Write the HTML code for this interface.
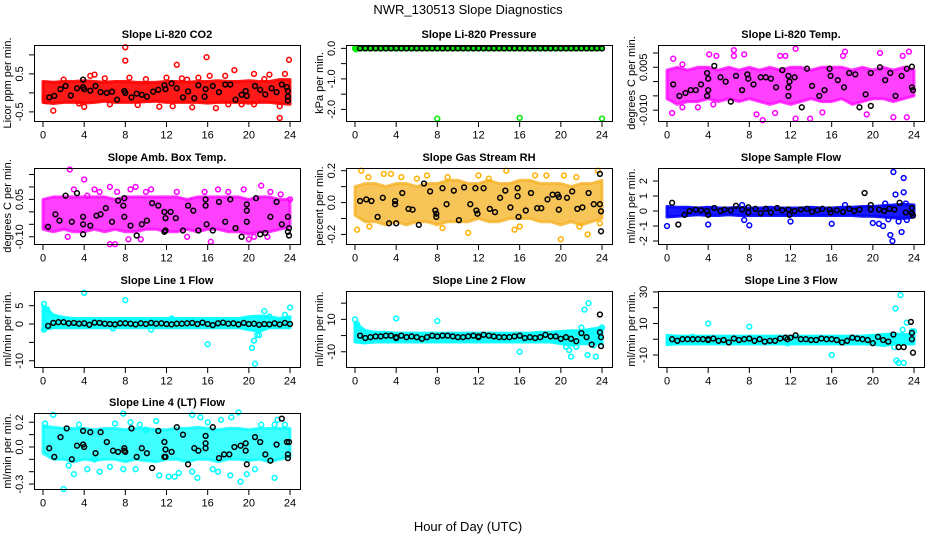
<!DOCTYPE html>
<html><head><meta charset="utf-8"><title>NWR_130513 Slope Diagnostics</title>
<style>
html,body{margin:0;padding:0;background:#fff;}
svg{display:block;font-family:"Liberation Sans",sans-serif;}
</style></head>
<body>
<svg id="chart" xmlns="http://www.w3.org/2000/svg" width="936" height="540" viewBox="0 0 936 540">
<text x="468" y="14" font-size="13" text-anchor="middle">NWR_130513  Slope Diagnostics</text>
<text x="468" y="531" font-size="13" text-anchor="middle">Hour of Day (UTC)</text>
</svg>
<script>
const bandHours=[0,1,2,3,4,5,6,7,8,9,10,11,12,13,14,15,16,17,18,19,20,21,22,23,24];
const xTicks=[0,4,8,12,16,20,24];

const co2Hi=[0.3,0.28,0.3,0.3,0.32,0.3,0.28,0.3,0.3,0.28,0.27,0.28,0.3,0.3,0.28,0.3,0.3,0.32,0.3,0.3,0.32,0.3,0.3,0.35,0.35];
const co2Lo=[-0.25,-0.28,-0.25,-0.25,-0.27,-0.25,-0.22,-0.25,-0.25,-0.25,-0.23,-0.22,-0.25,-0.25,-0.25,-0.25,-0.27,-0.25,-0.25,-0.25,-0.27,-0.25,-0.25,-0.28,-0.3];
const co2Out=[[0.2,-0.12],[0.3,-0.22],[1,-0.47],[3.5,-0.28],[4,-0.37],[4.6,0.45],[5,0.48],[6.5,-0.3],[8,1.2],[8,0.85],[8.4,0.4],[9.2,-0.32],[11.3,-0.36],[12,0.4],[12.6,-0.35],[13,0.74],[13.5,0.38],[14.5,-0.38],[15.1,0.4],[15.9,0.94],[16.2,0.45],[16.8,-0.4],[17.7,0.45],[18.6,0.6],[19.3,-0.3],[20.5,-0.3],[20.5,0.5],[22,0.48],[23,-0.66],[23,-0.35],[23.5,0.5],[23.9,0.87],[2,0.35],[6,0.38],[10,0.36],[14,0.35],[18,-0.3],[21.5,0.36]];
const co2Blk=[[0.6,-0.12],[1.1,-0.08],[1.7,0.1],[2.2,0.18],[2.7,-0.07],[3.3,0.12],[3.9,0.35],[3.9,0.15],[4,0.1],[4.6,0.06],[5.1,0.18],[5.6,0.02],[6.2,0.0],[6.7,0.03],[7.2,-0.18],[7.9,0.05],[8,0.0],[8.6,-0.12],[9.1,-0.02],[9.6,-0.05],[10.1,-0.1],[10.7,0.03],[11.2,0.08],[11.8,0.2],[11.9,0.1],[12.5,0.25],[13,0.12],[13.6,-0.12],[14.1,0.04],[14.7,-0.14],[15.1,0.2],[15.7,-0.1],[15.8,0.1],[16.5,0.18],[17.1,0.02],[17.7,0.22],[18.2,0.22],[18.7,-0.18],[19.3,-0.05],[19.7,0.05],[19.8,-0.08],[20.6,0.18],[21.1,0.08],[21.6,-0.04],[22.2,0.12],[22.7,0.02],[23.2,0.22],[23.7,0.15],[23.8,0.05],[23.8,-0.1],[23.8,-0.2]];
const co2Ticks=[-0.5,0,0.5,1.0];
const co2Labels=["-0.5","","0.5",""];

const presHi=[0.03,0.03,0.03,0.03,0.03,0.03,0.03,0.03,0.03,0.03,0.03,0.03,0.03,0.03,0.03,0.03,0.03,0.03,0.03,0.03,0.03,0.03,0.03,0.03,0.03];
const presLo=[-0.05,-0.05,-0.05,-0.05,-0.05,-0.05,-0.05,-0.05,-0.05,-0.05,-0.05,-0.05,-0.05,-0.05,-0.05,-0.05,-0.05,-0.05,-0.05,-0.05,-0.05,-0.05,-0.05,-0.05,-0.05];
const presOut=[[0,0],[0.1,-0.03],[8,-2.3],[16,-2.28],[24,-2.3]];
const presBlk=[[0.5,0],[1,0],[1.5,0],[2,0],[2.5,0],[3,0],[3.5,0],[4,0],[4.5,0],[5,0],[5.5,0],[6,0],[6.5,0],[7,0],[7.5,0],[8,0],[8.5,0],[9,0],[9.5,0],[10,0],[10.5,0],[11,0],[11.5,0],[12,0],[12.5,0],[13,0],[13.5,0],[14,0],[14.5,0],[15,0],[15.5,0],[16,0],[16.5,0],[17,0],[17.5,0],[18,0],[18.5,0],[19,0],[19.5,0],[20,0],[20.5,0],[21,0],[21.5,0],[22,0],[22.5,0],[23,0],[23.5,0],[24,0]];
const presTicks=[-2,-1.5,-1,-0.5,0];
const presLabels=["-2.0","","-1.0","","0.0"];

const tempHi=[0.004,0.005,0.004,0.005,0.005,0.004,0.005,0.004,0.005,0.004,0.005,0.004,0.005,0.005,0.004,0.005,0.005,0.005,0.004,0.005,0.004,0.005,0.004,0.005,0.004];
const tempLo=[-0.006,-0.008,-0.007,-0.007,-0.006,-0.007,-0.006,-0.007,-0.006,-0.007,-0.008,-0.007,-0.008,-0.007,-0.006,-0.007,-0.007,-0.006,-0.008,-0.007,-0.006,-0.006,-0.007,-0.006,-0.005];
const tempOut=[[0.5,-0.011],[0.6,0.008],[1.5,0.006],[1.5,-0.009],[3,-0.009],[4.1,0.0095],[4.5,-0.008],[4.8,0.009],[6.5,0.011],[6.5,0.009],[7.5,0.0095],[8.7,-0.0115],[9.3,-0.0135],[10.5,-0.011],[11,0.009],[11.5,0.009],[12.5,0.0115],[12.5,-0.013],[13.9,-0.013],[15.1,-0.0108],[17.3,0.0105],[17.1,0.009],[19.4,-0.0115],[20.7,0.010],[22,-0.0125],[22.9,0.009],[23.3,-0.0125],[23.5,0.0105]];
const tempBlk=[[0.6,-0.001],[1.2,-0.005],[1.8,-0.004],[2.3,-0.003],[2.8,-0.003],[3.3,-0.001],[3.9,0.003],[3.9,-0.005],[4,0.001],[4,-0.003],[4.6,0.0055],[5.2,0.0015],[5.7,0.0],[6.2,-0.007],[6.7,0.002],[7.3,-0.003],[7.8,0.0025],[7.9,0.001],[8.4,-0.001],[9.1,0.0015],[9.6,0.0015],[10.1,0.001],[10.6,-0.002],[11.2,0.004],[11.8,0.002],[11.8,-0.002],[11.9,0.0],[11.8,-0.005],[12.4,0.0015],[13.1,-0.009],[13.6,0.0045],[14.1,-0.0015],[14.8,-0.005],[15.3,-0.003],[15.8,0.0045],[15.9,0.002],[16.6,0.0005],[17.2,-0.002],[17.7,0.003],[18.3,0.0025],[18.7,-0.009],[19.3,-0.0045],[19.8,0.003],[19.8,-0.0085],[20.7,0.005],[21.2,0.0005],[21.7,0.003],[22.2,-0.005],[22.8,0.002],[23.3,0.0045],[23.8,0.0052],[23.8,-0.002],[23.9,-0.003]];
const tempTicks=[-0.010,-0.005,0.000,0.005,0.010];
const tempLabels=["-0.010","","","0.005",""];

const ambHi=[0.05,0.06,0.06,0.06,0.06,0.06,0.06,0.05,0.06,0.06,0.06,0.06,0.06,0.06,0.05,0.06,0.06,0.06,0.06,0.06,0.05,0.06,0.06,0.05,0.05];
const ambLo=[-0.07,-0.08,-0.07,-0.08,-0.08,-0.07,-0.08,-0.07,-0.08,-0.08,-0.07,-0.07,-0.08,-0.08,-0.07,-0.08,-0.07,-0.07,-0.08,-0.08,-0.09,-0.08,-0.08,-0.07,-0.06];
const ambOut=[[0.3,-0.06],[2.4,-0.1],[2.6,0.17],[3,0.09],[4,0.13],[4.3,0.065],[5,0.09],[5.5,0.08],[6.5,0.1],[6.5,-0.13],[7,-0.13],[7.2,0.08],[8.3,-0.11],[8.5,0.09],[9,0.1],[9.5,-0.11],[10,0.08],[10.5,0.09],[13,0.08],[14,-0.1],[15.7,0.08],[17,0.09],[16.3,-0.12],[18,0.08],[19.5,0.09],[20,-0.11],[20.5,-0.1],[21.2,0.105],[21.8,-0.1],[22.1,0.08],[23.1,0.07],[24,0.05]];
const ambBlk=[[0.5,-0.06],[1.2,-0.01],[1.6,-0.035],[2.2,0.065],[2.8,-0.04],[3.3,0.075],[3.9,-0.02],[3.9,-0.05],[3.9,-0.09],[4.6,-0.055],[5.2,-0.015],[5.6,-0.01],[6.1,0.015],[6.7,-0.04],[7.3,0.045],[7.8,0.025],[7.9,0.055],[7.9,-0.02],[8.5,-0.055],[9.1,-0.095],[9.6,-0.05],[10.1,-0.035],[10.6,0.035],[11.2,0.025],[11.8,0.0],[11.9,-0.025],[11.9,-0.075],[11.8,-0.08],[12.4,0.0],[12.9,-0.025],[13.6,-0.075],[14.1,0.025],[14.6,0.005],[15.1,-0.075],[15.8,0.05],[15.8,0.025],[15.9,-0.05],[16.5,-0.075],[17.1,0.04],[17.7,-0.04],[18.2,0.05],[18.7,-0.065],[19.3,-0.1],[19.8,0.005],[19.8,0.03],[19.8,-0.04],[20.7,0.055],[21.1,-0.09],[21.6,-0.085],[22.1,-0.02],[22.7,0.04],[23.2,-0.05],[23.8,-0.02],[23.8,-0.08],[23.9,-0.065],[23.9,-0.095]];
const ambTicks=[-0.10,-0.05,0.00,0.05,0.10,0.15];
const ambLabels=["-0.10","","","0.05","",""];

const rhHi=[0.1,0.12,0.12,0.1,0.12,0.12,0.1,0.12,0.12,0.14,0.14,0.12,0.12,0.14,0.12,0.12,0.14,0.14,0.12,0.12,0.12,0.1,0.12,0.12,0.14];
const rhLo=[-0.08,-0.12,-0.12,-0.14,-0.12,-0.14,-0.12,-0.12,-0.14,-0.12,-0.12,-0.12,-0.1,-0.12,-0.12,-0.1,-0.1,-0.1,-0.12,-0.12,-0.14,-0.12,-0.14,-0.12,-0.1];
const rhOut=[[0.2,-0.17],[0.6,0.2],[1.3,0.16],[1.4,-0.15],[2.8,0.18],[3.5,0.18],[4.5,0.16],[6,0.15],[7,0.17],[8.5,-0.16],[9,0.16],[11,-0.19],[12,0.17],[13,0.15],[14.7,0.2],[15.5,-0.17],[16,-0.15],[17.5,0.17],[18.6,0.17],[20,-0.23],[20.3,0.17],[21.5,0.16],[21.8,-0.15],[22.6,-0.2],[23.6,0.2],[23.8,-0.13]];
const rhBlk=[[0.5,0.01],[1.1,0.02],[1.6,0.01],[2.2,-0.09],[2.7,0.03],[3.3,-0.13],[3.9,0.01],[3.9,-0.01],[4,-0.13],[4.6,0.06],[5.2,-0.04],[5.6,-0.045],[6.2,-0.14],[6.7,0.12],[7.3,0.07],[7.8,-0.05],[7.9,-0.09],[7.9,-0.07],[8.5,0.09],[8.9,-0.01],[9.6,0.075],[10.1,-0.11],[10.6,0.095],[11.2,-0.01],[11.7,0.09],[11.8,-0.05],[11.9,-0.07],[12.5,0.09],[13.1,-0.04],[13.6,-0.06],[14.1,0.03],[14.6,0.075],[15.1,-0.03],[15.8,0.09],[15.8,0.04],[15.9,-0.09],[16.6,-0.05],[17.1,0.06],[17.7,-0.035],[18.1,-0.035],[18.7,0.02],[19.2,0.05],[19.7,0.05],[19.8,0.035],[19.8,-0.045],[20.6,0.03],[21.1,0.07],[21.6,-0.04],[22.1,-0.03],[22.7,0.06],[23.2,-0.01],[23.8,0.18],[23.8,-0.01],[23.9,-0.055],[23.9,-0.18]];
const rhTicks=[-0.2,-0.1,0.0,0.1,0.2];
const rhLabels=["-0.2","","0.0","","0.2"];

const sfHi=[0.3,0.25,0.25,0.2,0.25,0.2,0.2,0.25,0.2,0.2,0.25,0.2,0.2,0.2,0.25,0.2,0.2,0.25,0.25,0.3,0.3,0.35,0.4,0.45,0.4];
const sfLo=[-0.4,-0.35,-0.3,-0.25,-0.3,-0.3,-0.25,-0.3,-0.3,-0.3,-0.3,-0.3,-0.3,-0.3,-0.3,-0.3,-0.3,-0.3,-0.3,-0.35,-0.35,-0.4,-0.45,-0.5,-0.4];
const sfOut=[[0,-1],[4,-0.9],[7.5,-0.6],[7.3,0.4],[8,-0.95],[12,-0.7],[16,-0.85],[17.3,0.4],[20,-0.8],[20.6,-0.85],[21,-1],[21.2,0.5],[21.5,-0.55],[21.7,-1.6],[21.9,-2.0],[22,2.6],[22.2,1.1],[22.5,-0.7],[22.8,-1.4],[23,1.25],[23,2.2],[23.2,0.5],[23.3,-0.6]];
const sfBlk=[[0.5,0.55],[1.1,-0.9],[1.7,-0.25],[2.2,0.0],[2.8,0.1],[3.3,0.05],[3.9,0.0],[4,-0.25],[4.6,0.2],[5.2,0.0],[5.6,0.1],[6.2,0.05],[6.7,0.35],[7.3,0.1],[7.9,0.25],[7.9,-0.1],[8.6,0.15],[9.1,-0.15],[9.6,0.15],[10.1,-0.1],[10.7,0.2],[11.2,0.05],[11.8,0.1],[11.9,-0.25],[12.4,0.0],[13,0.1],[13.6,0.15],[14.1,-0.05],[14.6,0.05],[15.1,0.15],[15.8,0.1],[15.9,-0.1],[16.5,0.05],[17.1,-0.05],[17.7,0.15],[18.2,0.0],[18.7,0.1],[19.2,1.2],[19.8,0.4],[19.8,0.1],[20.6,0.1],[21.1,0.0],[21.6,0.15],[22.1,0.1],[22.6,0.55],[23.2,-0.1],[23.8,0.2],[23.8,-0.15],[23.9,-0.3]];
const sfTicks=[-2,-1,0,1,2];
const sfLabels=["-2","-1","0","1","2"];

const l1Hi=[5,2.5,1.8,1.5,1.5,1.5,1.5,1.5,1.5,1.5,1.5,1.5,1.5,1.5,1.5,1.5,1.5,1.5,1.5,1.5,2,2.2,2,1.5,2];
const l1Lo=[-1.5,-1,-1,-1,-1,-1,-1,-1,-1,-1,-1,-1,-1,-1,-1,-1,-1,-1,-1,-1,-1.5,-2,-1,-1,-1];
const l1Out=[[0.1,5.5],[0.4,4],[0.1,-1.5],[4,8.5],[8,6.5],[10.5,-1.5],[16,-5.5],[20.3,-6.5],[20.5,-4.5],[20.8,-3],[20.6,-10.8],[21,-3],[21.5,3.5],[22,2],[23.5,2.5],[24,4.5],[6.8,-1.2],[12.5,1.5]];
const l1Blk=[[0.5,-0.5],[1,0.3],[1.5,0.5],[2,0.5],[2.5,0.2],[3,0.3],[3.5,0.1],[4,0.2],[4.5,-0.2],[5,0.4],[5.5,0.3],[6,0.1],[6.5,0.0],[7,-0.1],[7.5,0.2],[8,0.2],[8.5,0.1],[9,-0.1],[9.5,0.2],[10,0.0],[10.5,0.3],[11,0.1],[11.5,0.2],[12,0.0],[12.5,-0.1],[13,0.1],[13.5,0.1],[14,0.2],[14.5,0.3],[15,0.0],[15.5,0.4],[16,0.0],[16.5,-0.3],[17,0.2],[17.5,0.4],[18,0.1],[18.5,0.2],[19,-0.1],[19.5,0.3],[20,0.0],[20.5,0.1],[21,-0.2],[21.5,0.0],[22,-0.1],[22.5,0.2],[23,-0.1],[23.5,0.3],[24,0.0]];
const l1Ticks=[-10,-5,0,5];
const l1Labels=["-10","","0","5"];

const l2Hi=[8,3,2,2,1.5,1.5,1.5,1.5,1.5,1.5,1.5,1.5,1.5,1.5,1.5,1.5,1.5,1.5,2,2,2.5,3,3,4,5];
const l2Lo=[-4,-4.5,-4,-4,-4,-4,-4,-4,-4,-4,-4,-4,-4,-4,-4,-4,-4,-4,-4,-4,-5,-6,-5,-5,-5];
const l2Out=[[0,10],[0.2,7],[0.8,-3.5],[4,10.5],[8,9],[16,-10],[20.3,-2],[20.5,-7],[20.8,-9],[21,-13],[21.5,-7],[22,5],[22.3,16],[22.6,-12],[22.7,20],[23,3],[23.2,-6],[23.4,-13],[23.6,-3],[24,5]];
const l2Blk=[[0.5,0],[1,-1.5],[1.5,-1],[2,-0.5],[2.5,-0.5],[3,0],[3.5,0],[4,-1],[4,-1.5],[4.5,0],[5,-1],[5.5,-0.5],[6,-1],[6.5,-2],[7,-1],[7.5,0],[8,-0.5],[8.5,0],[9,0],[9.5,-0.5],[10,-1],[10.5,-1],[11,-0.5],[11.5,0],[12,-0.5],[12,-1],[12.5,0.5],[13,0],[13.5,-0.5],[14,-1],[14.5,-1],[15,-1],[15.5,-0.5],[16,0],[16.5,-1.5],[17,-1],[17.5,-1.5],[18,-1],[18.5,0.5],[19,-0.5],[19.5,-0.5],[20,-2],[20.5,-1],[21,-2],[21.5,-3.5],[22,1.5],[22.5,-1],[23,-5.5],[23.8,13],[23.8,2],[23.9,-1],[23.9,-6.5]];
const l2Ticks=[-10,0,10,20];
const l2Labels=["-10","","10",""];

const l3Hi=[2.5,2,2,2,2,2,2,2,2,2,2,2,2,2,2,2,2,2,2,2,2.5,3,3.5,3,3];
const l3Lo=[-3.5,-3,-3,-3,-3,-3,-3,-3,-3,-3,-3,-3,-3,-3,-3,-3,-3,-3,-3,-3,-3,-4,-3,-3,-3];
const l3Out=[[4,10],[8,8],[11.7,-2.5],[16,-10],[22.1,-5],[22.2,19.5],[22.3,-13.5],[22.5,-15],[22.7,28],[22.9,6],[23,-15],[23.3,10.5],[23.8,5],[24,5],[2.5,1.5]];
const l3Blk=[[0.5,0],[1,-1],[1.5,0],[2,0],[2.5,0],[3,0],[3.5,0],[4,-0.5],[4,0],[4.5,0.5],[5,-1],[5.5,-0.5],[6,-2],[6.5,0.5],[7,-0.5],[7.5,0],[8,0.5],[8.5,-1],[9,0],[9.5,-1.5],[10,-1],[10.5,-1],[11,0.5],[11.5,1],[11.7,0],[12,1],[12.5,2.5],[13,0],[13.5,0],[14,-0.5],[14.5,-0.5],[15,0.5],[15.5,0],[16,0],[16.5,-0.5],[17,-2],[17.5,-1],[18,1],[18.5,0.5],[19,0],[19.5,-0.5],[20,-2.5],[20.5,1.5],[21,-0.5],[21.5,-1.5],[22,3],[22.5,-5],[23,-5],[23.7,11],[23.8,4],[23.8,0],[23.9,-8.5]];
const l3Ticks=[-10,0,10,20,30];
const l3Labels=["-10","","10","","30"];

const l4Hi=[0.17,0.16,0.15,0.15,0.15,0.14,0.15,0.15,0.14,0.15,0.15,0.14,0.14,0.15,0.15,0.16,0.15,0.14,0.15,0.15,0.14,0.15,0.15,0.15,0.15];
const l4Lo=[-0.05,-0.1,-0.1,-0.12,-0.1,-0.11,-0.1,-0.1,-0.12,-0.1,-0.11,-0.12,-0.1,-0.1,-0.12,-0.1,-0.1,-0.12,-0.1,-0.1,-0.11,-0.1,-0.12,-0.1,-0.08];
const l4Out=[[0.2,0.19],[1,0.26],[2,-0.34],[2.5,-0.15],[3,-0.22],[3.5,0.18],[4.3,-0.18],[5,-0.1],[5.5,-0.2],[6.5,-0.16],[7,0.19],[7.8,0.27],[7.8,-0.18],[8.5,0.2],[9,-0.18],[9.4,0.18],[10,0.14],[11,0.21],[11.3,-0.23],[12.2,-0.24],[12.8,-0.24],[13.2,-0.21],[14.5,0.26],[14.5,-0.2],[15,-0.25],[15.3,0.24],[16,0.2],[16.5,-0.18],[17,-0.2],[17.3,0.22],[18.2,-0.23],[18.3,0.24],[19,0.28],[19.2,-0.28],[19.8,-0.22],[20.6,-0.18],[21.2,0.18],[22.5,-0.25],[22.5,0.18],[22.8,0.22],[23.5,0.18]];
const l4Blk=[[0.6,-0.01],[1.1,-0.08],[1.7,0.08],[2.3,0.15],[2.8,-0.1],[3.3,0.01],[3.9,0.13],[3.9,0.02],[4,0.0],[4.6,0.12],[5.1,-0.05],[5.6,0.12],[6.2,0.04],[6.8,-0.03],[7.3,-0.04],[7.9,-0.01],[7.9,-0.03],[8,-0.04],[8.6,0.15],[9.1,-0.08],[9.6,-0.01],[10.1,-0.05],[10.6,-0.17],[11.2,0.13],[11.8,0.04],[11.9,-0.02],[11.8,-0.08],[11.9,-0.08],[12.5,-0.04],[13,0.16],[13.6,0.1],[14.1,-0.14],[14.7,-0.01],[15.1,-0.03],[15.8,0.09],[15.8,0.03],[15.8,-0.01],[16.5,0.16],[17.1,-0.09],[17.6,-0.06],[18.1,-0.06],[18.6,0.0],[19.2,0.01],[19.7,0.03],[19.7,-0.03],[19.8,-0.14],[20.6,0.08],[21.1,0.04],[21.6,-0.06],[22.1,-0.11],[22.7,0.02],[23.2,0.23],[23.7,0.04],[23.8,-0.06],[23.8,-0.09],[23.9,0.04]];
const l4Ticks=[-0.3,-0.2,-0.1,0.0,0.1,0.2];
const l4Labels=["-0.3","","","0.0","","0.2"];

const NS="http://www.w3.org/2000/svg";
const svg=document.getElementById('chart');
function mk(tag,attrs,parent){const e=document.createElementNS(NS,tag);for(const k in attrs)e.setAttribute(k,attrs[k]);(parent||svg).appendChild(e);return e;}

const panels=[
 {id:'co2',title:'Slope Li-820 CO2',ylab:'Licor ppm per min.',col:0,row:0,ymin:-0.74,ymax:1.26,hi:co2Hi,lo:co2Lo,out:co2Out,blk:co2Blk,ticks:co2Ticks,labels:co2Labels,color:'#ff0000',fill:'#ff0000',op:0.9},
 {id:'pressure',title:'Slope Li-820 Pressure',ylab:'kPa per min.',col:1,row:0,ymin:-2.38,ymax:0.11,hi:presHi,lo:presLo,out:presOut,blk:presBlk,ticks:presTicks,labels:presLabels,color:'#00ee00',fill:'#00ee00',op:0.9},
 {id:'temp',title:'Slope Li-820 Temp.',ylab:'degrees C per min.',col:2,row:0,ymin:-0.0138,ymax:0.0128,hi:tempHi,lo:tempLo,out:tempOut,blk:tempBlk,ticks:tempTicks,labels:tempLabels,color:'#ff00ff',fill:'#ff00ff',op:0.75},
 {id:'amb-box-temp',title:'Slope Amb. Box Temp.',ylab:'degrees C per min.',col:0,row:1,ymin:-0.129,ymax:0.176,hi:ambHi,lo:ambLo,out:ambOut,blk:ambBlk,ticks:ambTicks,labels:ambLabels,color:'#ff00ff',fill:'#ff00ff',op:0.75},
 {id:'gas-stream-rh',title:'Slope Gas Stream RH',ylab:'percent per min.',col:1,row:1,ymin:-0.26,ymax:0.217,hi:rhHi,lo:rhLo,out:rhOut,blk:rhBlk,ticks:rhTicks,labels:rhLabels,color:'#ffb000',fill:'#f4b020',op:0.75},
 {id:'sample-flow',title:'Slope Sample Flow',ylab:'ml/min per min.',col:2,row:1,ymin:-2.2,ymax:2.87,hi:sfHi,lo:sfLo,out:sfOut,blk:sfBlk,ticks:sfTicks,labels:sfLabels,color:'#0000ff',fill:'#0000ff',op:0.9},
 {id:'line1-flow',title:'Slope Line 1 Flow',ylab:'ml/min per min.',col:0,row:2,ymin:-11.7,ymax:9.0,hi:l1Hi,lo:l1Lo,out:l1Out,blk:l1Blk,ticks:l1Ticks,labels:l1Labels,color:'#00ffff',fill:'#00ffff',op:0.9},
 {id:'line2-flow',title:'Slope Line 2 Flow',ylab:'ml/min per min.',col:1,row:2,ymin:-19.4,ymax:27.5,hi:l2Hi,lo:l2Lo,out:l2Out,blk:l2Blk,ticks:l2Ticks,labels:l2Labels,color:'#00ffff',fill:'#00ffff',op:0.9},
 {id:'line3-flow',title:'Slope Line 3 Flow',ylab:'ml/min per min.',col:2,row:2,ymin:-17.6,ymax:30.6,hi:l3Hi,lo:l3Lo,out:l3Out,blk:l3Blk,ticks:l3Ticks,labels:l3Labels,color:'#00ffff',fill:'#00ffff',op:0.9},
 {id:'line4-flow',title:'Slope Line 4 (LT) Flow',ylab:'ml/min per min.',col:0,row:3,ymin:-0.34,ymax:0.275,hi:l4Hi,lo:l4Lo,out:l4Out,blk:l4Blk,ticks:l4Ticks,labels:l4Labels,color:'#00ffff',fill:'#00ffff',op:0.75}
];
const colLeft=[34,346,658], rowTop=[45,168,291,413], W=266, H=76;

panels.forEach(p=>{
  const L=colLeft[p.col], T=rowTop[p.row], B=T+H;
  const g=mk('g',{});
  
  
  const xs=h=>L+9+(h/24)*(W-19);
  const ys=v=>B-(v-p.ymin)/(p.ymax-p.ymin)*H;
  let pts=bandHours.map((h,i)=>xs(h).toFixed(1)+','+ys(p.hi[i]).toFixed(1));
  for(let i=bandHours.length-1;i>=0;i--)pts.push(xs(bandHours[i]).toFixed(1)+','+ys(p.lo[i]).toFixed(1));
  const band=mk('polygon',{points:pts.join(' '),fill:p.fill,'fill-opacity':p.op,stroke:p.fill,'stroke-opacity':p.op,'stroke-width':3,'stroke-linejoin':'round'},g);
  
  
  p.out.forEach(d=>{
    const c=mk('circle',{cx:xs(d[0]).toFixed(1),cy:ys(d[1]).toFixed(1),r:2.4,fill:'none',stroke:p.color,'stroke-width':1.5},g);
    
    
  });
  p.blk.forEach(d=>{
    const c=mk('circle',{cx:xs(d[0]).toFixed(1),cy:ys(d[1]).toFixed(1),r:2.4,fill:'none',stroke:'#000','stroke-width':1.5},g);
    
    
  });
  const box=mk('rect',{x:L+0.5,y:T+0.5,width:W,height:H,fill:'none',stroke:'#000','stroke-width':1},g);
  
  
  const t=mk('text',{x:L+W/2,y:T-7,'font-size':11,'font-weight':'bold','text-anchor':'middle'},g);
  t.textContent=p.title;
  
  
  mk('line',{x1:xs(0),y1:B+0.5,x2:xs(24),y2:B+0.5,stroke:'#000'},g);
  xTicks.forEach(h=>{
    const tk=mk('line',{x1:xs(h),y1:B,x2:xs(h),y2:B+6,stroke:'#000'},g);
    
    
    const tl=mk('text',{x:xs(h),y:B+17.5,'font-size':11,'text-anchor':'middle'},g);
    tl.textContent=String(h);
    
    
  });
  p.ticks.forEach((v,i)=>{
    const y=ys(v);
    const tk=mk('line',{x1:L-5,y1:y,x2:L,y2:y,stroke:'#000'},g);
    
    
    if(p.labels[i]){
      const tl=mk('text',{x:L-11,y:y,'font-size':11,'text-anchor':'middle',transform:'rotate(-90 '+(L-11)+' '+y.toFixed(1)+')'},g);
      tl.textContent=p.labels[i];
      
      
    }
  });
  const yl=mk('text',{x:L-23,y:T+H/2,'font-size':11,'text-anchor':'middle',transform:'rotate(-90 '+(L-23)+' '+(T+H/2)+')'},g);
  yl.textContent=p.ylab;
  
  
});
</script>
</body></html>
